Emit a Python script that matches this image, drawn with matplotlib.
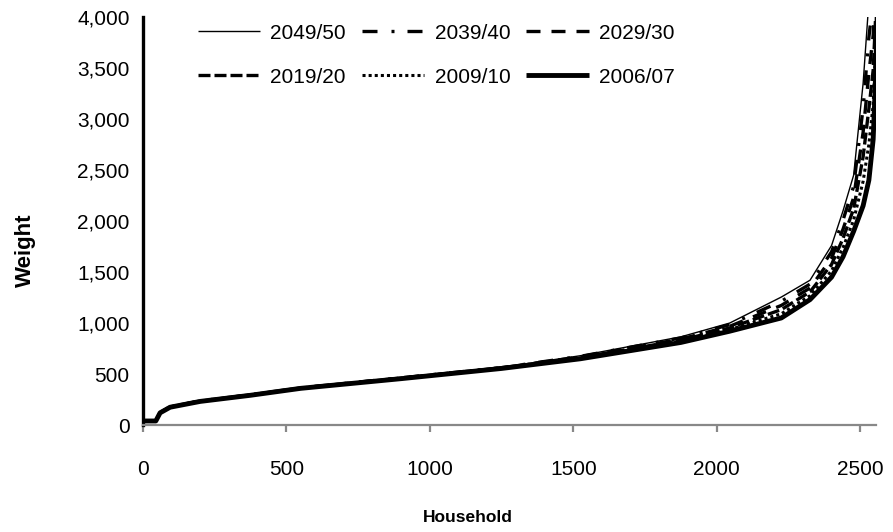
import matplotlib
matplotlib.use('Agg')
from matplotlib import pyplot as plt
from matplotlib.ticker import FuncFormatter, MultipleLocator

plt.rcParams['font.family'] = ['Liberation Sans', 'DejaVu Sans']

# household rank (sorted by weight)
household = [0, 45, 60, 95, 200, 375, 550, 900, 1250, 1525, 1875, 2045,
             2225, 2325, 2400, 2440, 2477, 2510, 2530, 2545, 2552, 2560]

w_2049 = [40, 40, 125, 180, 238, 298, 366, 465, 565, 680, 865, 1000,
          1255, 1420, 1760, 2100, 2450, 3350, 4150, 4500, 4800, 5000]
w_2039 = [40, 40, 124, 179, 237, 297, 365, 463, 563, 674, 854, 984,
          1214, 1382, 1698, 2010, 2340, 3110, 3800, 4160, 4500, 4820]
w_2029 = [40, 40, 123, 178, 236, 296, 364, 461, 561, 668, 843, 968,
          1173, 1344, 1636, 1920, 2230, 2870, 3450, 3820, 4200, 4640]
w_2019 = [40, 40, 122, 177, 234, 294, 362, 459, 559, 662, 832, 952,
          1132, 1306, 1574, 1830, 2120, 2630, 3100, 3480, 3900, 4460]
w_2009 = [40, 40, 121, 176, 233, 293, 361, 457, 557, 656, 821, 936,
          1091, 1268, 1512, 1740, 2010, 2390, 2750, 3140, 3600, 4280]
w_2006 = [40, 40, 120, 175, 232, 292, 360, 455, 555, 650, 810, 920,
          1050, 1230, 1450, 1650, 1900, 2150, 2400, 2800, 3300, 4100]

labels = ['2049/50', '2039/40', '2029/30', '2019/20', '2009/10', '2006/07']
series = [w_2049, w_2039, w_2029, w_2019, w_2009, w_2006]
styles = [
    dict(lw=1.0, ls='-'),
    dict(lw=2.4, ls=(0, (4.5, 4.2, 0.9, 3.9))),
    dict(lw=2.4, ls=(0, (4.2, 3.3))),
    dict(lw=2.4, ls=(0, (3.6, 1.2))),
    dict(lw=2.2, ls=(0, (1, 1))),
    dict(lw=3.5, ls='-'),
]

fig = plt.figure(figsize=(8.93, 5.32), dpi=100)
ax = fig.add_axes([0.160, 0.201, 0.821, 0.767])

handles = []
for lab, w, st in zip(labels, series, styles):
    h, = ax.plot(household, w, color='black', label=lab,
                 solid_capstyle='butt', dash_capstyle='butt', **st)
    handles.append(h)

ax.set_xlim(0, 2555)
ax.set_ylim(0, 4000)
ax.xaxis.set_major_locator(MultipleLocator(500))
ax.yaxis.set_major_locator(MultipleLocator(500))
ax.yaxis.set_major_formatter(FuncFormatter(lambda v, p: '{:,.0f}'.format(v)))

for s in ('top', 'right'):
    ax.spines[s].set_visible(False)
ax.spines['left'].set_color('black')
ax.spines['left'].set_linewidth(2.4)
ax.spines['bottom'].set_color('#888888')
ax.spines['bottom'].set_linewidth(1.6)

ax.tick_params(axis='y', length=0, pad=9.5, labelsize=15)
ax.tick_params(axis='x', length=5, width=1.6, color='#888888',
               direction='out', pad=20, labelsize=15)

ax.set_xlabel('Household', fontsize=12.5, fontweight='bold')
ax.xaxis.set_label_coords(0.443, -0.208)
ax.set_ylabel('Weight', fontsize=16, fontweight='bold')
ax.yaxis.set_label_coords(-0.146, 0.429)

# legend filled row by row (matplotlib fills column by column)
order = [0, 3, 1, 4, 2, 5]
ax.legend([handles[i] for i in order], [labels[i] for i in order],
          ncol=3, frameon=False, fontsize=15, handlelength=3.0,
          handletextpad=0.5, columnspacing=0.75, labelspacing=1.2,
          loc='upper left', bbox_to_anchor=(0.049, 1.03))

fig.savefig('out.png', dpi=100)
